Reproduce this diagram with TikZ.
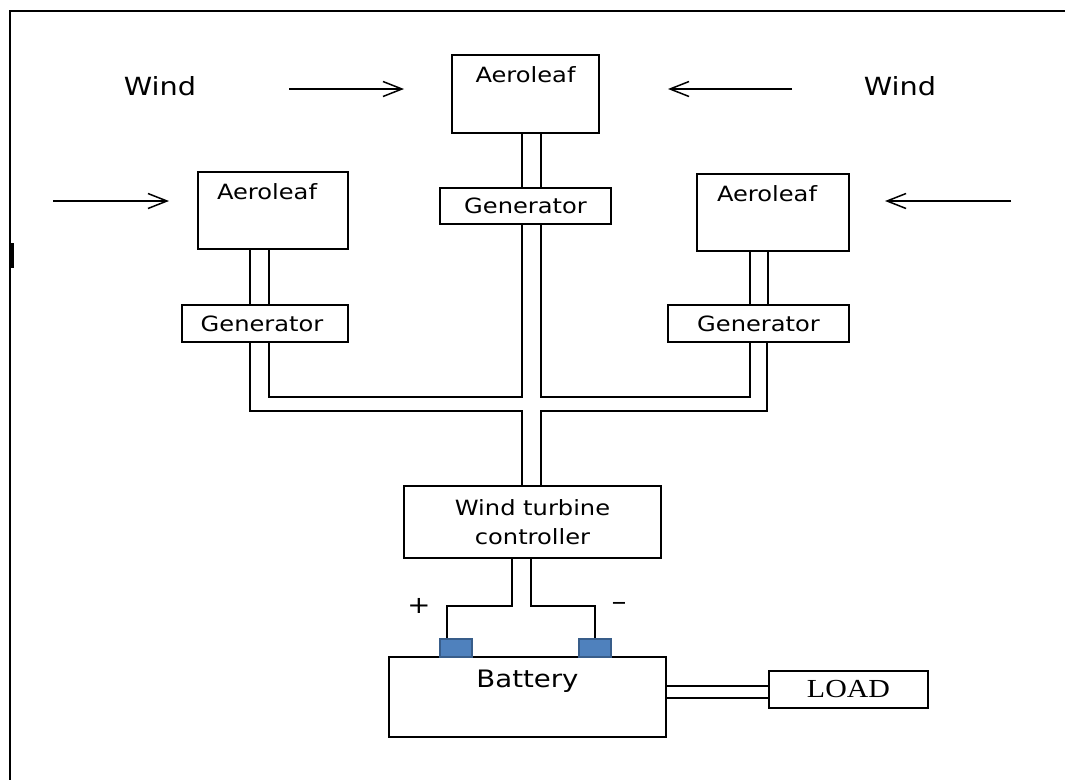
\documentclass[tikz,border=0pt]{standalone}
\usepackage{fontspec}
\setmainfont{DejaVu Sans}[FakeStretch=1.15]
\newfontfamily\loadfont{Liberation Serif}[FakeStretch=1.15]
\usepackage{tikz}
\usetikzlibrary{
  arrows.meta,
  calc
}
\definecolor{termblue}{HTML}{4F81BD}
\definecolor{termedge}{HTML}{385D8A}
\tikzset{>={Straight Barb[length=19pt,width=15pt]}}
\tikzset{font=\fontsize{21}{29}\selectfont}
\tikzset{box/.style={draw, line width=2.3pt, inner sep=0pt},
  wire/.style={line width=2.3pt},
  windarrow/.style={->, line width=1.5pt},
  terminal/.style={draw=termedge, fill=termblue, line width=1.8pt,
    minimum width=32pt, minimum height=18pt},
  boxtext/.style={inner sep=0pt, anchor=north}}

\begin{document}
\begin{tikzpicture}[x=1pt, y=-1pt]
  \useasboundingbox (0,0) rectangle (1065,780);
  % frame
  \draw[line width=2.5pt] (1065,11) -- (10,11) -- (10,780);
  \draw[line width=3pt] (12,243) -- (12,268);
  % wind
  \node[font=\fontsize{25}{30}\selectfont] (windL) at (160,86) {Wind};
  \node[font=\fontsize{25}{30}\selectfont] (windR) at (900,86) {Wind};
  \foreach \n/\xa/\xb/\y in {a/289/404/89, b/792/668/89, c/53/169/201, d/1011/885/201}
    \draw[windarrow] (\xa,\y) coordinate (\n s) -- (\xb,\y) coordinate (\n e);
  % aeroleafs and generators
  \node[box, minimum width=147pt, minimum height=78pt,
    label={[boxtext, name=leafT-t, yshift=-12pt]north:Aeroleaf}] (leafT) at (525.5,94) {};
  \node[box, minimum width=150pt, minimum height=77pt,
    label={[boxtext, name=leafL-t, xshift=-6pt, yshift=-12pt]north:Aeroleaf}] (leafL) at (273,210.5) {};
  \node[box, minimum width=152pt, minimum height=77pt,
    label={[boxtext, name=leafR-t, xshift=-6pt, yshift=-12pt]north:Aeroleaf}] (leafR) at (773,212.5) {};
  \node[box, minimum width=171pt, minimum height=36pt] (genT) at (525.5,206) {Generator};
  \node[box, minimum width=166pt, minimum height=37pt] (genL) at (265,323.5) {\hspace{-6pt}Generator};
  \node[box, minimum width=181pt, minimum height=37pt] (genR) at (758.5,323.5) {Generator\hspace{18pt}};
  \foreach \b/\xa/\xb in {T/522/541, L/250/269, R/750/768}{
    \draw[wire] (leaf\b.south -| \xa,0) -- (gen\b.north -| \xa,0);
    \draw[wire] (leaf\b.south -| \xb,0) -- (gen\b.north -| \xb,0);
  }
  % controller
  \node[box, minimum width=257pt, minimum height=72pt, align=center] (ctrl) at (532.5,522)
    {Wind turbine\\controller};
  \coordinate (busI) at (0,397);
  \coordinate (busO) at (0,411);
  \draw[wire] (genL.south -| 269,0) |- (busI -| 522,0) -- (genT.south -| 522,0);
  \draw[wire] (genT.south -| 541,0) -- (busI -| 541,0) -| (genR.south -| 750,0);
  \draw[wire] (genL.south -| 250,0) |- (busO -| 522,0) -- (ctrl.north -| 522,0);
  \draw[wire] (genR.south -| 767,0) |- (busO -| 541,0) -- (ctrl.north -| 541,0);
  % battery and load
  \node[box, minimum width=277pt, minimum height=80pt,
    label={[boxtext, name=batt-t, yshift=-14pt, font=\fontsize{24}{29}\selectfont]north:Battery}]
    (batt) at (527.5,697) {};
  \node[terminal] (termP) at (456,648) {};
  \node[terminal] (termN) at (595,648) {};
  \node[font=\fontsize{24}{29}\selectfont] (plus) at (419,606) {+};
  \node[font=\fontsize{26}{29}\selectfont] (minus) at (619,606) {–};
  \coordinate (split) at (0,606);
  \draw[wire] (ctrl.south -| 512,0) |- (split -| 447,0) -- (termP.north -| 447,0);
  \draw[wire] (ctrl.south -| 531,0) |- (split -| termN) -- (termN.north);
  \node[box, minimum width=159pt, minimum height=37pt, font=\loadfont\fontsize{26}{30}\selectfont]
    (load) at (848.5,689.5) {LOAD};
  \foreach \y in {686, 698}
    \draw[wire] (batt.east |- 0,\y) -- (load.west |- 0,\y);
\end{tikzpicture}
\end{document}
